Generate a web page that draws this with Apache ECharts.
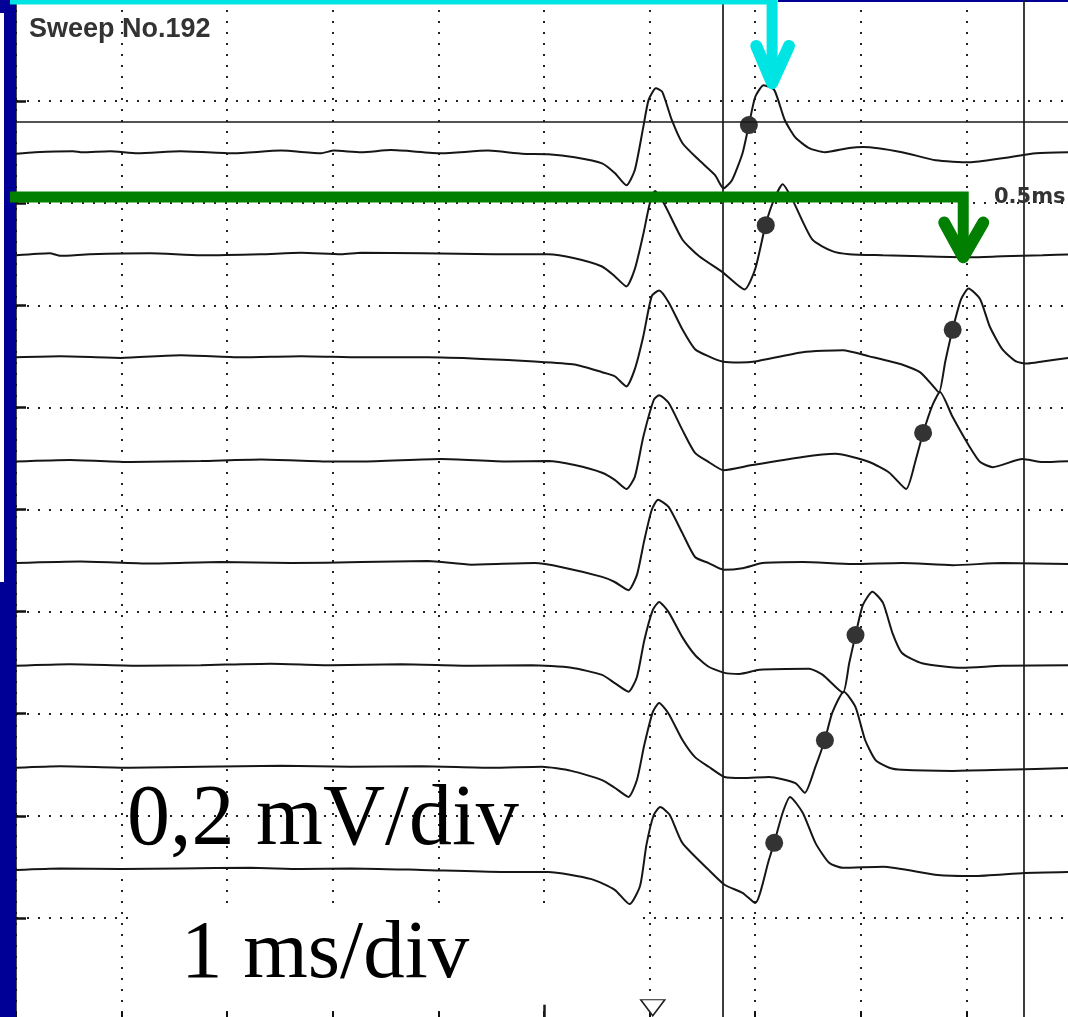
<!DOCTYPE html>
<html>
<head>
<meta charset="utf-8">
<title>Sweep No.192</title>
<script src="https://cdn.jsdelivr.net/npm/echarts@6/dist/echarts.min.js"></script>
<style>
html, body { margin: 0; padding: 0; background: #fff; }
#main { width: 1068px; height: 1017px; }
</style>
</head>
<body>
<div id="main"></div>
<script>
// x = time in ms (1 ms/div), y = amplitude in mV (0.2 mV/div)
// each sweep: times + amplitude relative to its own baseline
const baselineMv = [1.7, 1.5, 1.3, 1.1, 0.9, 0.7, 0.5, 0.3];

const tr1Ms = [0, 0.18, 0.54, 0.63, 0.89, 1.15, 1.56, 2.06, 2.51, 2.89, 3.01, 3.27, 3.55, 4.03, 4.47, 4.79, 5.04, 5.29, 5.55, 5.67,
  5.78, 5.86, 5.94, 5.99, 6.06, 6.12, 6.21, 6.31, 6.47, 6.62, 6.70, 6.78, 6.88, 6.94, 7.00, 7.08, 7.18, 7.28, 7.38, 7.51,
  7.66, 7.89, 8.02, 8.39, 8.71, 9.03, 9.34, 9.66, 10];
const tr1Mv = [-0.003, 0, 0.002, 0, 0.002, -0.002, 0.002, -0.002, 0.003, -0.002, 0.003, 0, 0.004, -0.002, 0.003, -0.003, -0.004, -0.010, -0.022, -0.041,
  -0.065, -0.035, 0.049, 0.102, 0.125, 0.118, 0.063, 0.018, -0.016, -0.045, -0.071, -0.055, -0.002, 0.053, 0.108, 0.131, 0.122, 0.063, 0.029, 0.008,
  0, 0.008, 0.010, 0, -0.016, -0.020, -0.012, -0.002, 0];

const tr2Ms = [0, 0.32, 0.42, 0.70, 1.27, 1.75, 2.32, 2.70, 3.08, 3.27, 3.84, 4.53, 5.04, 5.29, 5.55, 5.67, 5.78, 5.86, 5.94, 6.00,
  6.05, 6.14, 6.31, 6.47, 6.69, 6.90, 7.00, 7.10, 7.18, 7.26, 7.35, 7.54, 7.73, 7.89, 8.21, 8.58, 9.03, 9.34, 9.72, 10];
const tr2Mv = [-0.002, 0.002, -0.003, 0, 0.002, -0.002, 0, 0.003, 0, 0.003, 0.002, 0, 0, -0.008, -0.024, -0.043, -0.063, -0.029, 0.039, 0.098,
  0.124, 0.098, 0.029, -0.004, -0.035, -0.069, -0.029, 0.059, 0.108, 0.137, 0.108, 0.029, 0.006, 0, -0.002, -0.004, -0.006, -0.004, -0.002, 0];

const tr3Ms = [0, 0.42, 0.99, 1.56, 2.13, 2.70, 3.27, 3.90, 4.41, 4.91, 5.29, 5.55, 5.67, 5.78, 5.86, 5.94, 6.02, 6.09, 6.18, 6.31,
  6.43, 6.56, 6.69, 6.85, 7.00, 7.45, 7.83, 8.08, 8.39, 8.56, 8.68, 8.74, 8.80, 8.87, 8.95, 9.02, 9.13, 9.22, 9.34, 9.47,
  9.58, 9.72, 10];
const tr3Mv = [-0.002, 0, -0.003, 0.002, -0.002, 0, -0.002, -0.002, -0.005, -0.010, -0.016, -0.031, -0.039, -0.059, -0.025, 0.039, 0.118, 0.129, 0.106, 0.053,
  0.014, 0, -0.010, -0.012, -0.010, 0.008, 0.012, 0, -0.016, -0.031, -0.057, -0.071, -0.010, 0.053, 0.112, 0.133, 0.112, 0.059, 0.014, -0.010,
  -0.014, -0.010, -0.002];

const tr4Ms = [0, 0.51, 1.08, 1.75, 2.32, 2.98, 3.27, 4.03, 4.66, 5.04, 5.29, 5.55, 5.67, 5.78, 5.86, 5.94, 6.04, 6.09, 6.18, 6.31,
  6.43, 6.56, 6.70, 6.97, 7.45, 7.76, 8.08, 8.27, 8.43, 8.52, 8.59, 8.68, 8.75, 8.87, 9.03, 9.13, 9.25, 9.53, 9.72, 10];
const tr4Mv = [-0.006, -0.003, -0.007, -0.005, -0.002, -0.006, -0.006, -0.001, -0.006, -0.005, -0.013, -0.028, -0.042, -0.060, -0.036, 0.042, 0.115, 0.124, 0.109, 0.056,
  0.011, -0.007, -0.023, -0.013, 0.003, 0.009, -0.007, -0.028, -0.060, -0.003, 0.050, 0.105, 0.130, 0.081, 0.023, -0.007, -0.017, -0.001, -0.007, -0.005];

const tr5Ms = [0, 0.61, 1.27, 1.94, 2.60, 3.27, 3.90, 4.31, 4.91, 5.17, 5.55, 5.67, 5.80, 5.88, 5.95, 6.02, 6.08, 6.18, 6.31, 6.43,
  6.56, 6.70, 6.88, 7.07, 7.45, 7.92, 8.39, 8.87, 9.34, 10];
const tr5Mv = [-0.005, -0.002, -0.006, -0.003, -0.005, -0.003, -0.001, -0.008, -0.005, -0.013, -0.032, -0.042, -0.058, -0.028, 0.040, 0.099, 0.119, 0.105, 0.054, 0.007,
  -0.005, -0.018, -0.015, -0.005, -0.003, -0.007, -0.005, -0.009, -0.005, -0.007];

const tr6Ms = [0, 0.51, 1.18, 1.75, 2.41, 2.98, 3.65, 4.31, 4.88, 5.26, 5.55, 5.67, 5.80, 5.88, 5.95, 6.03, 6.09, 6.18, 6.31, 6.43,
  6.56, 6.71, 6.85, 7.04, 7.51, 7.64, 7.83, 7.89, 7.95, 8.02, 8.11, 8.21, 8.30, 8.39, 8.58, 8.96, 9.34, 10];
const tr6Mv = [-0.006, -0.003, -0.006, -0.005, -0.002, -0.005, -0.003, -0.006, -0.005, -0.010, -0.024, -0.040, -0.057, -0.028, 0.044, 0.103, 0.119, 0.099, 0.050, 0.015,
  -0.008, -0.020, -0.022, -0.014, -0.012, -0.024, -0.059, -0.001, 0.054, 0.113, 0.139, 0.117, 0.058, 0.019, -0.001, -0.010, -0.006, -0.005];

const tr7Ms = [0, 0.42, 1.08, 1.75, 2.51, 3.17, 3.84, 4.50, 4.98, 5.26, 5.55, 5.67, 5.80, 5.88, 5.95, 6.03, 6.09, 6.18, 6.31, 6.43,
  6.56, 6.71, 6.88, 7.13, 7.38, 7.47, 7.57, 7.66, 7.73, 7.84, 7.95, 8.04, 8.14, 8.27, 8.39, 8.87, 9.34, 10];
const tr7Mv = [-0.006, -0.003, -0.006, -0.004, -0.002, -0.004, -0.003, -0.006, -0.004, -0.012, -0.030, -0.045, -0.063, -0.030, 0.039, 0.103, 0.121, 0.100, 0.049, 0.015,
  -0.004, -0.024, -0.026, -0.024, -0.036, -0.055, -0.004, 0.049, 0.102, 0.143, 0.113, 0.049, 0.009, -0.006, -0.010, -0.012, -0.010, -0.006];

const tr8Ms = [0, 0.42, 0.99, 1.56, 2.22, 2.70, 3.17, 3.84, 4.60, 5.04, 5.45, 5.67, 5.81, 5.91, 5.97, 6.04, 6.10, 6.19, 6.31, 6.56,
  6.71, 6.88, 7.00, 7.13, 7.18, 7.26, 7.33, 7.45, 7.57, 7.70, 7.83, 8.21, 8.73, 9.07, 9.55, 10];
const tr8Mv = [-0.006, -0.003, -0.004, -0.003, -0.002, -0.004, -0.003, -0.006, -0.010, -0.010, -0.024, -0.045, -0.073, -0.037, 0.043, 0.102, 0.117, 0.102, 0.047, -0.006,
  -0.035, -0.051, -0.071, 0.014, 0.047, 0.106, 0.137, 0.106, 0.047, 0.008, -0.002, 0, -0.016, -0.018, -0.012, -0.010];

// latency markers on the second potential (sweep 5 has none)
const dotMs = [6.94, 7.10, 8.87, 8.59, 7.95, 7.66, 7.18];
const dotMv = [1.753, 1.557, 1.352, 1.150, 0.754, 0.548, 0.347];

// cursors and stimulus mark
const cursorMs = [6.686, 9.536];
const cursorLevelMv = 1.759;
const stimulusMs = 6.03;
const stimulusMarkMv = 0.024;

// arrows drawn over the sweeps (data coords)
const cyanLineMs = [-0.3, 7.16, 7.16];
const cyanLineMv = [2.0, 2.0, 1.845];
const cyanHeadMs = [7.01, 7.16, 7.32];
const cyanHeadMv = [1.908, 1.835, 1.908];
const greenLineMs = [-0.3, 8.97, 8.97];
const greenLineMv = [1.612, 1.612, 1.505];
const greenHeadMs = [8.79, 8.97, 9.16];
const greenHeadMv = [1.562, 1.494, 1.562];

const sweeps = [
  [tr1Ms, tr1Mv], [tr2Ms, tr2Mv], [tr3Ms, tr3Mv], [tr4Ms, tr4Mv],
  [tr5Ms, tr5Mv], [tr6Ms, tr6Mv], [tr7Ms, tr7Mv], [tr8Ms, tr8Mv]
];

function zip(ms, mv, base) {
  if (ms.length !== mv.length) console.warn('length mismatch', ms.length, mv.length);
  return ms.map((t, i) => [t, mv[i] + (base || 0)]);
}

const chart = echarts.init(document.getElementById('main'));

const series = sweeps.map((s, i) => ({
  type: 'line',
  data: zip(s[0], s[1], baselineMv[i]),
  showSymbol: false,
  smooth: 0.2,
  silent: true,
  z: 3,
  lineStyle: { color: '#161616', width: 2 }
}));

series.push({
  type: 'scatter',
  data: zip(dotMs, dotMv),
  symbolSize: 18,
  silent: true,
  z: 4,
  itemStyle: { color: '#333', opacity: 1 }
});

series.push({
  type: 'scatter',
  data: [[stimulusMs, stimulusMarkMv]],
  symbol: 'triangle',
  symbolRotate: 180,
  symbolSize: [24, 16],
  silent: true,
  z: 4,
  itemStyle: { color: '#fff', borderColor: '#222', borderWidth: 1.5, opacity: 1 }
});

// cursors
series.push({
  type: 'line',
  data: [],
  silent: true,
  z: 3,
  markLine: {
    silent: true,
    symbol: ['none', 'none'],
    label: { show: false },
    lineStyle: { color: '#1a1a1a', width: 1.7, type: 'solid' },
    data: [
      { xAxis: cursorMs[0] },
      { xAxis: cursorMs[1] },
      { yAxis: cursorLevelMv },
      [{ coord: [5, 0] }, { coord: [5, 0.03], lineStyle: { width: 2.5 } }]
    ]
  }
});

function arrowPart(ms, mv, color, width, join) {
  return {
    type: 'line',
    data: zip(ms, mv),
    showSymbol: false,
    clip: false,
    silent: true,
    z: 6,
    lineStyle: { color: color, width: width, cap: 'round', join: join }
  };
}
series.push(arrowPart(cyanLineMs, cyanLineMv, '#00e4e4', 11, 'miter'));
series.push(arrowPart(cyanHeadMs, cyanHeadMv, '#00e4e4', 12, 'round'));
series.push(arrowPart(greenLineMs, greenLineMv, '#007f00', 11, 'miter'));
series.push(arrowPart(greenHeadMs, greenHeadMv, '#007f00', 12, 'round'));

const option = {
  animation: false,
  backgroundColor: '#fff',
  grid: { left: 16, top: -1, width: 1056, height: 1021, outerBoundsMode: 'none', containLabel: false },
  xAxis: {
    type: 'value', min: 0, max: 10, interval: 1,
    axisLine: { show: true, onZero: false, lineStyle: { color: '#111', width: 1.5 } },
    axisTick: { show: true, inside: true, length: 8, lineStyle: { color: '#111', width: 2 } },
    axisLabel: { show: false },
    splitLine: { show: true, lineStyle: { color: '#222', width: 2, type: [2, 9] } }
  },
  yAxis: {
    type: 'value', min: 0, max: 2, interval: 0.2,
    axisLine: { show: true, onZero: false, lineStyle: { color: '#111', width: 1.5 } },
    axisTick: { show: true, inside: true, length: 10, lineStyle: { color: '#111', width: 2.5 } },
    axisLabel: { show: false },
    splitLine: { show: true, lineStyle: { color: '#222', width: 2, type: [2, 9] } }
  },
  graphic: [
    // frame pieces: blue bar with a white notch at the upper left
    { type: 'rect', z: 1, silent: true, shape: { x: 4, y: 0, width: 12, height: 1017 }, style: { fill: '#000096' } },
    { type: 'rect', z: 1, silent: true, shape: { x: 0, y: 0, width: 4, height: 13 }, style: { fill: '#000096' } },
    { type: 'rect', z: 1, silent: true, shape: { x: 0, y: 582, width: 4, height: 435 }, style: { fill: '#000096' } },
    { type: 'rect', z: 1, silent: true, shape: { x: 778, y: 0, width: 290, height: 2 }, style: { fill: '#000096' } },
    // label box under "1 ms/div"
    { type: 'rect', z: 1, silent: true, shape: { x: 135, y: 906, width: 505, height: 102 }, style: { fill: '#fff' } },
    { type: 'text', z: 10, silent: true, style: { text: 'Sweep No.192', x: 29, y: 30, fill: '#333', font: 'bold 27px "Liberation Sans", Arial, sans-serif', verticalAlign: 'middle' } },
    { type: 'text', z: 10, silent: true, style: { text: '0.5ms', x: 994, y: 198, fill: '#333', font: 'bold 21px "DejaVu Sans", sans-serif', verticalAlign: 'middle' } },
    { type: 'text', z: 10, silent: true, style: { text: '0,2 mV/div', x: 127, y: 821, fill: '#000', font: '86px "Liberation Serif", "Times New Roman", serif', verticalAlign: 'middle' } },
    { type: 'text', z: 10, silent: true, style: { text: '1 ms/div', x: 181, y: 955, fill: '#000', font: '83px "Liberation Serif", "Times New Roman", serif', verticalAlign: 'middle' } }
  ],
  series: series
};

chart.setOption(option);
</script>
</body>
</html>
